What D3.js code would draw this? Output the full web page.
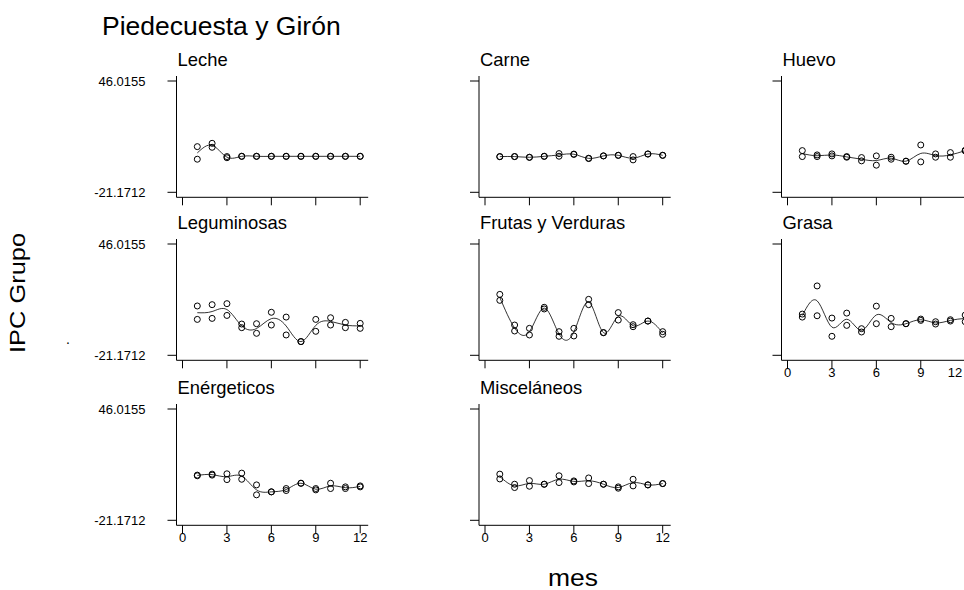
<!DOCTYPE html>
<html>
<head>
<meta charset="utf-8">
<script src="https://cdn.jsdelivr.net/npm/d3@7"></script>
<style>
  body { margin: 0; background: #fff; }
  text { font-family: "Liberation Sans", Arial, sans-serif; fill: #000; }
</style>
</head>
<body>
<div id="vis"></div>
<script>
const WIDTH = 964;
const HEIGHT = 590;

// data: IPC by group, two cities per month
const months = [1, 2, 3, 4, 5, 6, 7, 8, 9, 10, 11, 12];
const xTicks = [0, 3, 6, 9, 12];
const yTicks = [-21.1712, 46.0155];

const lechePiedecuesta = [6.4, 8.4, 0.4, 0.6, 0.6, 0.6, 0.6, 0.6, 0.6, 0.6, 0.6, 0.6];
const lecheGiron       = [-1.2, 6.0, -0.3, 0.5, 0.5, 0.5, 0.5, 0.5, 0.5, 0.5, 0.5, 0.5];
const carnePiedecuesta = [0.4, 0.4, 0.0, 0.6, 2.2, 1.9, -0.6, 0.8, 1.2, 0.4, 2.0, 1.2];
const carneGiron       = [0.3, 0.4, -0.1, 0.5, 0.6, 1.7, -0.8, 0.8, 1.1, -1.6, 1.9, 1.1];
const huevoPiedecuesta = [4.0, 1.4, 2.0, 0.4, -0.2, 0.8, 0.0, -2.4, 7.4, 2.0, 2.8, 4.2];
const huevoGiron       = [0.4, 0.4, 0.8, 0.0, -2.2, -4.8, -1.2, -2.4, -2.8, 0.0, 0.0, 3.8];
const legumPiedecuesta = [8.6, 9.4, 10.0, -2.3, -2.1, 4.8, 1.9, -12.9, 0.5, 1.5, -1.3, -1.9];
const legumGiron       = [0.5, 1.1, 2.9, -4.5, -7.9, -2.9, -8.9, -12.9, -6.7, -2.9, -4.5, -4.9];
const frutasPiedecuesta = [15.6, -2.9, -4.9, 7.8, -6.9, -4.9, 12.6, -7.5, 4.6, -2.7, -0.5, -6.9];
const frutasGiron       = [12.0, -6.5, -8.9, 6.8, -9.7, -9.5, 9.4, -7.5, 0.1, -3.9, -0.5, -8.5];
const grasaPiedecuesta = [3.7, 20.7, 1.3, 4.3, -5.1, 8.5, 1.1, -2.1, 0.7, -0.9, 0.3, 3.1];
const grasaGiron       = [1.9, 2.7, -9.7, -3.1, -7.1, -2.1, -3.9, -2.1, -0.1, -2.3, -0.5, -0.9];
const energPiedecuesta = [6.1, 6.7, 6.9, 7.3, 0.2, -4.0, -2.0, 1.2, -2.0, 1.2, -1.0, -0.4];
const energGiron       = [5.7, 6.1, 3.4, 3.6, -5.8, -4.0, -3.2, 1.2, -2.8, -2.0, -2.0, -1.0];
const miscPiedecuesta  = [6.7, 0.6, 2.8, 0.6, 5.7, 2.6, 4.4, 0.6, -1.0, 3.6, 0.2, 1.0];
const miscGiron        = [3.8, -1.4, -0.6, 0.6, 1.6, 2.0, 1.0, 0.6, -1.8, -0.4, 0.2, 1.0];

const groups = [
  {name: "Leche", a: lechePiedecuesta, b: lecheGiron},
  {name: "Carne", a: carnePiedecuesta, b: carneGiron},
  {name: "Huevo", a: huevoPiedecuesta, b: huevoGiron},
  {name: "Leguminosas", a: legumPiedecuesta, b: legumGiron},
  {name: "Frutas y Verduras", a: frutasPiedecuesta, b: frutasGiron},
  {name: "Grasa", a: grasaPiedecuesta, b: grasaGiron},
  {name: "Enérgeticos", a: energPiedecuesta, b: energGiron},
  {name: "Misceláneos", a: miscPiedecuesta, b: miscGiron}
];

// panel layout
const COL_X0 = [182.5, 485, 787.5];   // pixel of month 0
const ROW_TOP = [81, 244, 409];       // pixel of top y tick
const PANEL_W = 177.7;
const PANEL_H = 111.3;

const svg = d3.select("#vis")
  .append("svg")
    .attr("width", WIDTH)
    .attr("height", HEIGHT);

svg.append("text")
  .attr("x", 102)
  .attr("y", 35)
  .attr("font-size", 26.5)
  .text("Piedecuesta y Girón");

svg.append("text")
  .attr("transform", "translate(25,293) rotate(-90)")
  .attr("text-anchor", "middle")
  .attr("font-size", 22)
  .attr("textLength", 120)
  .attr("lengthAdjust", "spacingAndGlyphs")
  .text("IPC Grupo");

svg.append("text")
  .attr("x", 68)
  .attr("y", 344)
  .attr("text-anchor", "middle")
  .attr("font-size", 14)
  .text(".");

svg.append("text")
  .attr("x", 573)
  .attr("y", 586)
  .attr("text-anchor", "middle")
  .attr("font-size", 23)
  .attr("textLength", 50)
  .attr("lengthAdjust", "spacingAndGlyphs")
  .text("mes");

groups.forEach((g, i) => {
  const col = i % 3;
  const row = Math.floor(i / 3);
  const x0 = COL_X0[col];
  const top = ROW_TOP[row];

  const X_SCALE = d3.scaleLinear().domain([0, 12]).range([x0, x0 + PANEL_W]);
  const Y_SCALE = d3.scaleLinear().domain([yTicks[0], yTicks[1]]).range([top + PANEL_H, top]);

  const axisX = x0 - 6;              // y axis line
  const axisY = top + PANEL_H + 5;   // x axis line

  const panel = svg.append("g");

  // axis lines
  panel.append("line")
    .attr("x1", axisX).attr("x2", axisX)
    .attr("y1", top - 5).attr("y2", axisY)
    .attr("stroke", "#000").attr("stroke-width", 1);
  panel.append("line")
    .attr("x1", axisX).attr("x2", X_SCALE(12) + 8)
    .attr("y1", axisY).attr("y2", axisY)
    .attr("stroke", "#000").attr("stroke-width", 1);

  // y ticks
  panel.selectAll(".ytick")
    .data(yTicks)
    .enter()
    .append("line")
      .attr("x1", axisX - 9).attr("x2", axisX)
      .attr("y1", d => Y_SCALE(d)).attr("y2", d => Y_SCALE(d))
      .attr("stroke", "#000").attr("stroke-width", 1);

  // x ticks
  panel.selectAll(".xtick")
    .data(xTicks)
    .enter()
    .append("line")
      .attr("x1", d => X_SCALE(d)).attr("x2", d => X_SCALE(d))
      .attr("y1", axisY).attr("y2", axisY + 8)
      .attr("stroke", "#000").attr("stroke-width", 1);

  if (col === 0) {
    panel.selectAll(".ylab")
      .data(yTicks)
      .enter()
      .append("text")
        .attr("x", axisX - 31)
        .attr("y", d => Y_SCALE(d))
        .attr("dy", "0.35em")
        .attr("text-anchor", "end")
        .attr("font-size", 13)
        .text(d => d);
  }

  // x labels only for bottom panels of each column
  if (row === 2 || (row === 1 && col === 2)) {
    panel.selectAll(".xlab")
      .data(xTicks)
      .enter()
      .append("text")
        .attr("x", d => Math.min(X_SCALE(d), WIDTH - 9))
        .attr("y", axisY + 17)
        .attr("text-anchor", "middle")
        .attr("font-size", 13)
        .text(d => d);
  }

  panel.append("text")
    .attr("x", axisX + 1)
    .attr("y", top - 15)
    .attr("font-size", 18.4)
    .text(g.name);

  // smooth line through monthly means
  const means = months.map((m, k) => ({m: m, v: (g.a[k] + g.b[k]) / 2}));
  const line = d3.line()
    .x(d => X_SCALE(d.m))
    .y(d => Y_SCALE(d.v))
    .curve(d3.curveNatural);
  panel.append("path")
    .datum(means)
    .attr("d", line)
    .attr("fill", "none")
    .attr("stroke", "#000")
    .attr("stroke-width", 0.8);

  const pts = months.map((m, k) => ({m: m, v: g.a[k]}))
    .concat(months.map((m, k) => ({m: m, v: g.b[k]})));
  panel.selectAll(".pt")
    .data(pts)
    .enter()
    .append("circle")
      .attr("cx", d => X_SCALE(d.m))
      .attr("cy", d => Y_SCALE(d.v))
      .attr("r", 3)
      .attr("fill", "none")
      .attr("stroke", "#000")
      .attr("stroke-width", 1);
});
</script>
</body>
</html>
